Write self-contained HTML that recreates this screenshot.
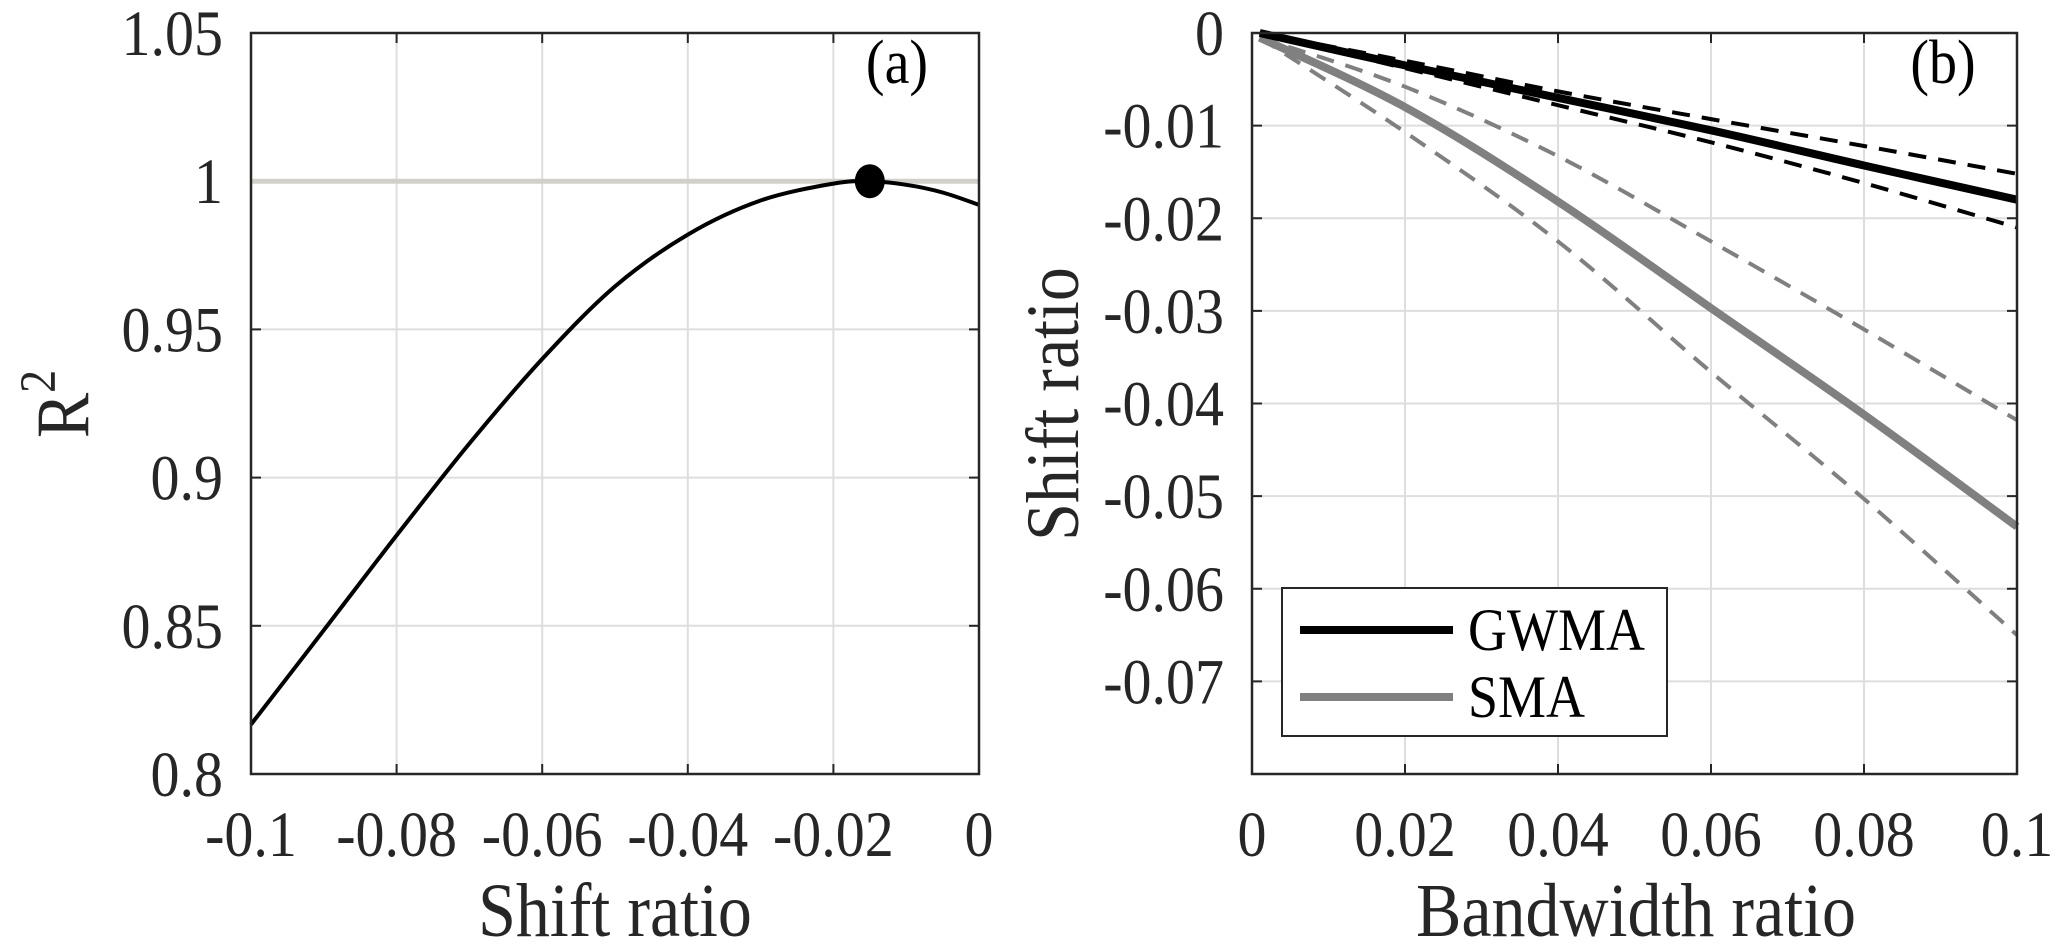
<!DOCTYPE html>
<html><head><meta charset="utf-8"><style>
html,body{margin:0;padding:0;background:#fff;}
svg{display:block;font-family:"Liberation Serif",serif;}
</style></head><body>
<svg id="chart" width="2067" height="949" viewBox="0 0 2067 949"></svg>
<script>
// Panel (a) data
const aShift = [-0.1,-0.09,-0.08,-0.07,-0.06,-0.05,-0.04,-0.03,-0.02,-0.015,-0.01,-0.005,0];
const aR2 = [0.8167,0.8485,0.8805,0.9115,0.940,0.9645,0.982,0.9935,0.9992,1.0,0.9988,0.9962,0.992];
const aPeak = [-0.015, 1.0];
const aRef = 1.0;
const aXTicks = [-0.1,-0.08,-0.06,-0.04,-0.02,0];
const aXTickLabels = ["-0.1","-0.08","-0.06","-0.04","-0.02","0"];
const aYTicks = [0.8,0.85,0.9,0.95,1,1.05];
const aYTickLabels = ["0.8","0.85","0.9","0.95","1","1.05"];
// Panel (b) data
const bBw = [0.001,0.02,0.04,0.06,0.08,0.1];
const gwma = [0,-0.0035,-0.007,-0.0105,-0.0143,-0.018];
const gwmaUp = [0,-0.003,-0.0063,-0.0093,-0.0122,-0.0152];
const gwmaLo = [0,-0.0038,-0.0078,-0.0118,-0.0162,-0.021];
const smaBw = [0.001,0.02,0.04,0.06,0.08,0.1];
const sma = [-0.0005,-0.008,-0.0182,-0.0297,-0.0412,-0.0533];
const smaUpBw = [0.001,0.02,0.04,0.06,0.08,0.1];
const smaUp = [-0.0005,-0.0058,-0.0133,-0.0225,-0.032,-0.0418];
const smaLo = [-0.0005,-0.0107,-0.0225,-0.0366,-0.0503,-0.065];
const bXTicks = [0,0.02,0.04,0.06,0.08,0.1];
const bXTickLabels = ["0","0.02","0.04","0.06","0.08","0.1"];
const bYTicks = [0,-0.01,-0.02,-0.03,-0.04,-0.05,-0.06,-0.07,-0.08];
const bYTickLabels = ["0","-0.01","-0.02","-0.03","-0.04","-0.05","-0.06","-0.07",""];

const NS="http://www.w3.org/2000/svg";
const svg=document.getElementById('chart');
function mk(tag,attrs,parent){const e=document.createElementNS(NS,tag);for(const k in attrs)e.setAttribute(k,attrs[k]);(parent||svg).appendChild(e);return e;}
function lin(d0,d1,r0,r1){return v=>r0+(v-d0)/(d1-d0)*(r1-r0);}
const SY=1.12;

function panel(o){
  const g=mk('g',{});
  
  
  const sx=lin(o.xd[0],o.xd[1],o.L,o.R), sy=lin(o.yd[0],o.yd[1],o.B,o.T);
  o.xt.forEach((v,i)=>{const x=sx(v);
    const l=mk('line',{x1:x,x2:x,y1:o.T,y2:o.B,stroke:'#dedede','stroke-width':2},g);
    
    mk('line',{x1:x,x2:x,y1:o.B,y2:o.B-10,stroke:'#262626','stroke-width':2},g);
    mk('line',{x1:x,x2:x,y1:o.T,y2:o.T+10,stroke:'#262626','stroke-width':2},g);
    const t=mk('text',{transform:`translate(${x},${o.B+82}) scale(1,${SY})`,'text-anchor':'middle','font-size':58,fill:'#262626'},g);
    t.textContent=o.xl[i];
  });
  o.yt.forEach((v,i)=>{const y=sy(v);
    const l=mk('line',{x1:o.L,x2:o.R,y1:y,y2:y,stroke:'#dedede','stroke-width':2},g);
    
    mk('line',{x1:o.L,x2:o.L+10,y1:y,y2:y,stroke:'#262626','stroke-width':2},g);
    mk('line',{x1:o.R,x2:o.R-10,y1:y,y2:y,stroke:'#262626','stroke-width':2},g);
    const t=mk('text',{transform:`translate(${o.L-28},${y+22}) scale(1,${SY})`,'text-anchor':'end','font-size':58,fill:'#262626'},g);
    t.textContent=o.yl[i];
  });
  return {g,sx,sy};
}
function path(g,xs,ys,sx,sy,attrs,name){
  const P=xs.map((x,i)=>[sx(x),sy(ys[i])]);
  let d='M'+P[0][0].toFixed(1)+','+P[0][1].toFixed(1);
  for(let i=0;i<P.length-1;i++){
    const p0=P[Math.max(0,i-1)],p1=P[i],p2=P[i+1],p3=P[Math.min(P.length-1,i+2)];
    const c1=[p1[0]+(p2[0]-p0[0])/6,p1[1]+(p2[1]-p0[1])/6];
    const c2=[p2[0]-(p3[0]-p1[0])/6,p2[1]-(p3[1]-p1[1])/6];
    d+='C'+c1.map(v=>v.toFixed(1)).join(',')+' '+c2.map(v=>v.toFixed(1)).join(',')+' '+p2.map(v=>v.toFixed(1)).join(',');
  }
  const p=mk('path',Object.assign({d:d,fill:'none','stroke-linejoin':'round'},attrs),g);
  
  return p;
}

// Panel a
const A={name:'panel-a',L:251,R:979,T:33,B:774,xd:[-0.1,0],yd:[0.8,1.05],xt:aXTicks,xl:aXTickLabels,yt:aYTicks,yl:aYTickLabels};
const pa=panel(A);
const ref=mk('line',{x1:A.L,x2:A.R,y1:pa.sy(aRef),y2:pa.sy(aRef),stroke:'#d3d0ca','stroke-width':5},pa.g);

path(pa.g,aShift,aR2,pa.sx,pa.sy,{stroke:'#000','stroke-width':4},'r2-curve');
const dot=mk('ellipse',{cx:pa.sx(aPeak[0]),cy:pa.sy(aPeak[1]),rx:15,ry:17,fill:'#000'},pa.g);

mk('rect',{x:A.L,y:A.T,width:A.R-A.L,height:A.B-A.T,fill:'none',stroke:'#262626','stroke-width':2.5},pa.g);
let t=mk('text',{transform:`translate(897,83) scale(1,${SY})`,'text-anchor':'middle','font-size':56,fill:'#000'});t.textContent='(a)';

t=mk('text',{transform:`translate(615,936) scale(1,${SY})`,'text-anchor':'middle','font-size':68,fill:'#262626'});t.textContent='Shift ratio';

t=mk('text',{x:0,y:0,'text-anchor':'middle','font-size':68,fill:'#262626',transform:'translate(88,404) rotate(-90) scale(1,1.1)'});
t.innerHTML='R<tspan dy="-30" font-size="46">2</tspan>';


// Panel b
const B={name:'panel-b',L:1252,R:2017,T:33,B:774,xd:[0,0.1],yd:[-0.08,0],xt:bXTicks,xl:bXTickLabels,yt:bYTicks,yl:bYTickLabels};
const pb=panel(B);
const dash={'stroke-dasharray':'18 12'};
path(pb.g,smaUpBw,smaUp,pb.sx,pb.sy,Object.assign({stroke:'#808080','stroke-width':4},dash),'sma-upper-bound');
path(pb.g,smaUpBw,smaLo,pb.sx,pb.sy,Object.assign({stroke:'#808080','stroke-width':4},dash),'sma-lower-bound');
path(pb.g,smaBw,sma,pb.sx,pb.sy,{stroke:'#808080','stroke-width':8},'sma-line');
path(pb.g,bBw,gwmaUp,pb.sx,pb.sy,Object.assign({stroke:'#000','stroke-width':4},dash),'gwma-upper-bound');
path(pb.g,bBw,gwmaLo,pb.sx,pb.sy,Object.assign({stroke:'#000','stroke-width':4},dash),'gwma-lower-bound');
path(pb.g,bBw,gwma,pb.sx,pb.sy,{stroke:'#000','stroke-width':8},'gwma-line');
mk('rect',{x:B.L,y:B.T,width:B.R-B.L,height:B.B-B.T,fill:'none',stroke:'#262626','stroke-width':2.5},pb.g);
t=mk('text',{transform:`translate(1943,83) scale(1,${SY})`,'text-anchor':'middle','font-size':56,fill:'#000'});t.textContent='(b)';

t=mk('text',{transform:`translate(1636,936) scale(1,${SY})`,'text-anchor':'middle','font-size':68,fill:'#262626'});t.textContent='Bandwidth ratio';

t=mk('text',{x:0,y:0,'text-anchor':'middle','font-size':68,fill:'#262626',transform:'translate(1078,404) rotate(-90) scale(1,1.1)'});
t.textContent='Shift ratio';


// Legend
const lg=mk('g',{});

mk('rect',{x:1282,y:588,width:385,height:148,fill:'#fff',stroke:'#262626','stroke-width':2},lg);
const e1=mk('g',{},lg);
mk('line',{x1:1300,x2:1453,y1:630,y2:630,stroke:'#000','stroke-width':8},e1);
t=mk('text',{transform:`translate(1468,650) scale(1,${SY})`,'font-size':54,fill:'#000'},e1);t.textContent='GWMA';
const e2=mk('g',{},lg);
mk('line',{x1:1300,x2:1453,y1:697,y2:697,stroke:'#808080','stroke-width':8},e2);
t=mk('text',{transform:`translate(1468,717) scale(1,${SY})`,'font-size':54,fill:'#000'},e2);t.textContent='SMA';
</script>
</body></html>
